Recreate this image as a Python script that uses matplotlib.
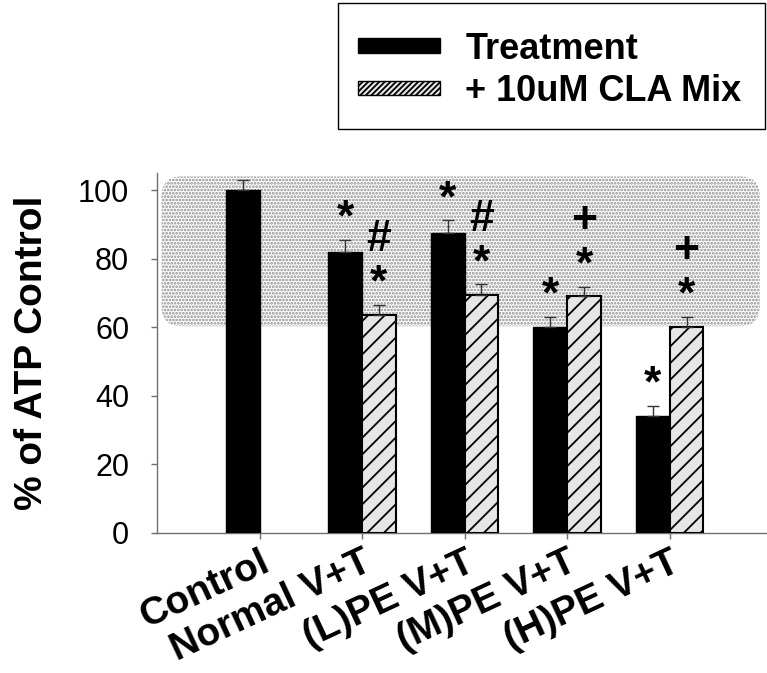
import numpy as np
import matplotlib
matplotlib.use('Agg')
import matplotlib.pyplot as plt
from matplotlib.patches import FancyBboxPatch, Rectangle, Patch
from matplotlib.transforms import IdentityTransform

plt.rcParams['font.family'] = ['Liberation Sans', 'DejaVu Sans']
plt.rcParams['hatch.linewidth'] = 1.3

# data
groups = ['Control', 'Normal V+T', '(L)PE V+T', '(M)PE V+T', '(H)PE V+T']
treatment = [100, 82, 87.5, 60, 34]
treatment_err = [3, 3.5, 3.7, 3, 3]
cla_mix = [63.5, 69.5, 69, 60]          # no CLA bar for Control
cla_err = [3, 3, 2.7, 3]
treatment_marks = [[], ['*'], ['*'], ['*'], ['*']]
cla_marks = [['*', '#'], ['*', '#'], ['*', '+'], ['*', '+']]

fig = plt.figure(figsize=(7.67, 6.73), dpi=100)
ax = fig.add_axes([157 / 767, 1 - 533 / 673, 610 / 767, 360 / 673])
ax.set_xlim(-1, 4.95)
ax.set_ylim(0, 105)

x = np.arange(len(groups))
w = 0.33

ax.bar(x - w / 2, treatment, w, color='black', edgecolor='black', zorder=3,
       yerr=[np.zeros(len(treatment)), treatment_err],
       error_kw=dict(ecolor='#333333', elinewidth=1, capsize=4, capthick=1))
ax.bar(x[1:] + w / 2, cla_mix, w, color='#e6e6e6', edgecolor='black', hatch='//',
       linewidth=1.5, zorder=3,
       yerr=[np.zeros(len(cla_mix)), cla_err],
       error_kw=dict(ecolor='#333333', elinewidth=1, capsize=4, capthick=1))

# significance marks above the error bars
sym_shift = {'*': -7, '#': 0, '+': 0}
def mark(xc, top, syms):
    for k, s in enumerate(syms):
        ax.annotate(s, (xc, top), xytext=(0, 22 + 25 * k + sym_shift[s]),
                    textcoords='offset points', ha='center', va='center',
                    fontsize=32, fontweight='bold', zorder=4)

for i in range(len(groups)):
    mark(x[i] - w / 2, treatment[i] + treatment_err[i], treatment_marks[i])
for i in range(len(cla_mix)):
    mark(x[i + 1] + w / 2, cla_mix[i] + cla_err[i], cla_marks[i])

# dotted rounded band behind the bars
p0 = ax.transData.transform((-0.956, 60.3))
p1 = ax.transData.transform((4.88, 104))
band = FancyBboxPatch(p0, p1[0] - p0[0], p1[1] - p0[1],
                      boxstyle='round,pad=0,rounding_size=20',
                      transform=IdentityTransform(), facecolor='white',
                      edgecolor='#8c8c8c', linewidth=0, hatch='.....',
                      zorder=1, clip_on=False)
ax.add_patch(band)

for side in ['top', 'right']:
    ax.spines[side].set_visible(False)
for side in ['left', 'bottom']:
    ax.spines[side].set_color('#707070')
    ax.spines[side].set_linewidth(1)

ax.set_yticks([0, 20, 40, 60, 80, 100])
ax.tick_params(axis='y', labelsize=22, length=4, width=1, color='#707070', pad=16)
ax.set_xticks(x)
ax.set_xticklabels(groups, rotation=25, ha='right', rotation_mode='anchor',
                   fontsize=28, fontweight='bold')
ax.tick_params(axis='x', length=4, width=1, color='#707070', pad=4)

ax.set_ylabel('% of ATP Control', fontsize=28, fontweight='bold')
ax.yaxis.set_label_coords(-0.175, 0.5)

# legend box
fig.patches.append(Rectangle((338 / 767, 1 - 129 / 673), 427 / 767, 126 / 673,
                             transform=fig.transFigure, facecolor='none',
                             edgecolor='black', linewidth=1))
handles = [Patch(facecolor='black', edgecolor='black'),
           Patch(facecolor='#e6e6e6', edgecolor='black', hatch='//////', linewidth=1)]
fig.legend(handles, ['Treatment', '+ 10uM CLA Mix'], loc='center left',
           bbox_to_anchor=(358 / 767, 0.8955), frameon=False,
           prop=dict(size=26, weight='bold'), handlelength=2.28,
           handleheight=0.25, handletextpad=0.69, labelspacing=0.2,
           borderpad=0, borderaxespad=0)

fig.savefig('out.png', dpi=100)
